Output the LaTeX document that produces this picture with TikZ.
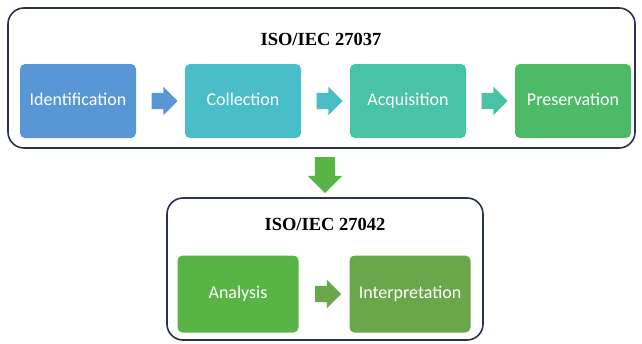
\documentclass[tikz,border=0pt]{standalone}
\usepackage{fontspec}
\setmainfont{Liberation Serif}
\newfontfamily\boxfont{Carlito}
\usetikzlibrary{shapes.arrows,calc}
\definecolor{frame}{RGB}{40,50,80}
\definecolor{cIdent}{RGB}{88,150,213}
\definecolor{cColl}{RGB}{74,190,200}
\definecolor{cAcq}{RGB}{72,195,165}
\definecolor{cPres}{RGB}{76,186,102}
\definecolor{cAna}{RGB}{88,180,68}
\definecolor{cInt}{RGB}{106,166,74}
\begin{document}
\begin{tikzpicture}[x=1pt,y=-1pt,
  group/.style={draw=frame,line width=1.6pt,rounded corners=16pt},
  title/.style={font=\fontsize{18.5}{22}\selectfont\bfseries,text=black},
  stage/.style={draw=none,rounded corners=5pt,minimum width=116pt,minimum height=74pt,
    text=white,font=\boxfont\fontsize{18}{22}\selectfont,inner sep=0pt,
    text height=12pt,text depth=3pt},
  blockarrow/.style={single arrow,draw=none,minimum height=26pt,inner xsep=0pt,
    inner ysep=8pt,single arrow head extend=6pt,single arrow tip angle=90}]
\useasboundingbox (0,0) rectangle (642,343);
% upper group: ISO/IEC 27037
\draw[group] (8,8) rectangle (635,148);
\node[title] (t1) at (321,39) {ISO/IEC 27037};
\node[stage,fill=cIdent] (ident) at (78,101) {Identification};
\node[stage,fill=cColl] (coll) at (243,101) {Collection};
\node[stage,fill=cAcq] (acq) at (408,101) {Acquisition};
\node[stage,fill=cPres] (pres) at (573,101) {Preservation};
\node[blockarrow,fill=cIdent] (a1) at ($(ident.east)!0.5!(coll.west)$) {};
\node[blockarrow,fill=cColl] (a2) at ($(coll.east)!0.5!(acq.west)$) {};
\node[blockarrow,fill=cAcq] (a3) at ($(acq.east)!0.5!(pres.west)$) {};
% transition between the two standards
\node[blockarrow,fill=cAna,shape border rotate=270,minimum height=36pt,
  inner sep=10pt,single arrow head extend=7pt] (down) at (325,170) {};
% lower group: ISO/IEC 27042
\draw[group] (167,198) rectangle (483,340);
\node[title] (t2) at (325,224) {ISO/IEC 27042};
\node[stage,fill=cAna,minimum width=121pt,minimum height=77pt] (ana) at (238,294) {Analysis};
\node[stage,fill=cInt,minimum width=121pt,minimum height=77pt] (interp) at (410,294) {Interpretation};
\node[blockarrow,fill=cInt] (a4) at ($(ana.east)!0.5!(interp.west)$) {};
\end{tikzpicture}
\end{document}
